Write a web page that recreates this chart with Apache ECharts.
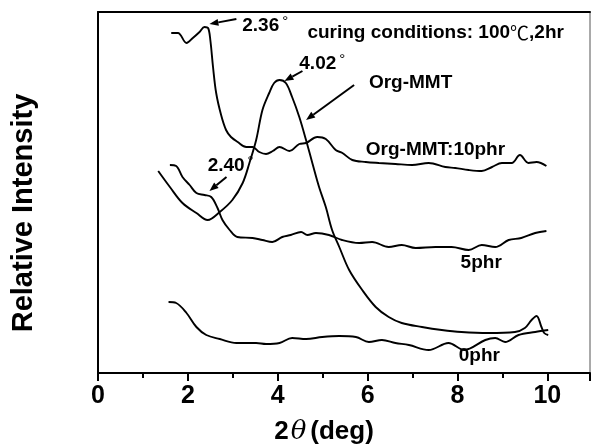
<!DOCTYPE html>
<html><head><meta charset="utf-8">
<script src="https://cdn.jsdelivr.net/npm/echarts@6/dist/echarts.min.js"></script>
<style>html,body{margin:0;padding:0;background:#fff}#c{width:593px;height:446px}</style>
</head><body><div id="c"></div>
<script>
// 2θ (deg) positions and relative intensities (arbitrary units, stacked offsets)
const x10 = [1.63,1.78,1.97,2.11,2.26,2.37,2.45,2.50,2.56,2.63,2.74,2.85,2.96,3.11,3.30,3.44,3.59,3.74,3.89,4.04,4.26,4.48,4.63,4.88,5.07,5.29,5.44,5.66,5.96,6.25,6.62,6.99,7.36,7.73,7.95,8.25,8.54,8.77,8.99,9.21,9.39,9.58,9.76,9.98];
const y10 = [340,340,330,335,341,346,345,333,306,280,258,243,236,231,226,226,221,219,222,226,222,229,230,236,234,223,220,213,211,210,209,208,210,206,205,203,202,206,210,210,218,210,211,207];
const xOrg = [1.34,1.60,1.88,2.19,2.44,2.71,2.99,3.22,3.37,3.52,3.66,3.81,3.92,4.04,4.18,4.32,4.48,4.63,4.77,4.92,5.07,5.21,5.37,5.59,5.88,6.18,6.47,6.76,7.21,7.65,8.09,8.69,9.28,9.50,9.65,9.76,9.87,9.93,10.02];
const yOrg = [202,186,170,160,153,161,173,190,210,233,263,280,290,293,290,276,256,233,210,186,166,143,126,103,83,66,56,50,46,43,41,40,41,45,53,57,46,40,38];
const x5 = [1.60,1.74,1.88,2.04,2.19,2.37,2.52,2.66,2.77,2.93,3.10,3.44,3.66,3.88,4.10,4.29,4.52,4.66,4.85,5.14,5.43,5.81,6.10,6.47,6.76,7.07,7.51,7.87,8.25,8.54,8.84,9.14,9.42,9.73,9.98];
const y5 = [208,207,196,188,180,178,176,165,153,143,136,135,133,131,136,138,141,138,140,138,133,130,131,126,128,125,126,126,123,128,126,133,135,140,142];
const x0 = [1.57,1.74,1.97,2.19,2.41,2.71,3.08,3.52,3.74,4.04,4.32,4.63,4.99,5.37,5.74,6.03,6.32,6.62,6.92,7.36,7.80,8.15,8.62,8.84,9.06,9.36,9.73,10.02];
const y0 = [71,70,60,46,38,34,30,30,29,30,35,34,36,37,36,31,33,30,28,23,30,23,33,35,31,38,41,43];
const xTicks = [0,2,4,6,8,10];

// annotations (data coordinates)
const arrows = [
  {tip:[2.48,349], tail:[3.08,354]},
  {tip:[4.15,292], tail:[4.55,302]},
  {tip:[4.63,253], tail:[5.70,288]},
  {tip:[2.48,182], tail:[2.86,196]}
];
const labels = [
  {t:'2.36', deg:true, at:[3.21,347]},
  {t:'4.02', deg:true, at:[4.48,309]},
  {t:'Org-MMT', at:[6.03,290]},
  {t:'2.40', deg:true, at:[2.44,207]},
  {t:'Org-MMT:10phr', at:[5.96,223]},
  {t:'5phr', at:[8.07,110]},
  {t:'0phr', at:[8.03,17]}
];
const cond = {t:'curing conditions: 100', unit:'℃', tail:',2hr', at:[4.66,340]};

const zip = (a,b)=>a.map((v,i)=>[v,b[i]]);
const FONT = '"Liberation Sans", Arial, Helvetica, sans-serif';
const chart = echarts.init(document.getElementById('c'), null, {renderer:'canvas'});
const line = (name, d)=>({type:'line', name, data:d, showSymbol:false, smooth:0.35,
  lineStyle:{color:'#000', width:1.9}, z:3, silent:true, animation:false});

chart.setOption({
  backgroundColor:'#fff',
  animation:false,
  grid:{left:98, right:1, top:12, bottom:73, show:true, borderColor:'#555', borderWidth:1},
  xAxis:[{type:'value', min:0, max:10.95, interval:2,
    axisLine:{show:true, onZero:false, lineStyle:{color:'#000', width:2}},
    axisTick:{show:true, inside:false, length:8, lineStyle:{color:'#000', width:2}},
    minorTick:{show:true, splitNumber:2, length:5, lineStyle:{color:'#000', width:2}},
    splitLine:{show:false},
    axisLabel:{margin:11, color:'#000', fontSize:25, fontWeight:'bold', fontFamily:FONT,
      formatter:v=> xTicks.includes(v) ? String(v) : ''}
  },{type:'value', position:'top', min:0, max:10.95,
    axisLine:{show:true, onZero:false, lineStyle:{color:'#000', width:2}},
    axisTick:{show:false}, axisLabel:{show:false}, splitLine:{show:false}}],
  yAxis:{type:'value', min:0, max:361,
    axisLine:{show:true, lineStyle:{color:'#000', width:2}},
    axisTick:{show:false}, axisLabel:{show:false}, splitLine:{show:false}},
  series:[line('Org-MMT:10phr', zip(x10,y10)), line('Org-MMT', zip(xOrg,yOrg)),
          line('5phr', zip(x5,y5)), line('0phr', zip(x0,y0))]
});

const px = p=>chart.convertToPixel({gridIndex:0}, p);
const g = [];
arrows.forEach(a=>{
  const t = px(a.tip), s = px(a.tail);
  const dx = t[0]-s[0], dy = t[1]-s[1], L = Math.hypot(dx,dy), ux = dx/L, uy = dy/L;
  const hl = 9, hw = 3.5;
  const bx = t[0]-ux*hl, by = t[1]-uy*hl;
  g.push({type:'line', shape:{x1:s[0],y1:s[1],x2:bx,y2:by}, style:{stroke:'#000', lineWidth:2}});
  g.push({type:'polygon', shape:{points:[[t[0],t[1]],[bx-uy*hw,by+ux*hw],[bx+uy*hw,by-ux*hw]]}, style:{fill:'#000'}});
});
labels.forEach(l=>{
  const p = px(l.at);
  g.push({type:'text', x:p[0], y:p[1], style:{
    text: l.deg ? '{a|'+l.t+'}{b|°}' : l.t,
    font:'bold 19px '+FONT, fill:'#000', textAlign:'left', textVerticalAlign:'middle',
    rich:{a:{font:'bold 19px '+FONT, fill:'#000'}, b:{font:'15px '+FONT, fill:'#000', padding:[0,0,8,3]}}
  }});
});
{
  const p = px(cond.at);
  g.push({type:'text', x:p[0], y:p[1], style:{
    text:'{a|'+cond.t+'}{u|'+cond.unit+'}{a|'+cond.tail+'}', textAlign:'left', textVerticalAlign:'middle',
    rich:{a:{font:'bold 19px '+FONT, fill:'#000'}, u:{font:'19px "Noto Sans CJK SC", sans-serif', fill:'#000'}}
  }});
}
// axis titles
g.push({type:'text', x:24, y:213, rotation:Math.PI/2, style:{text:'Relative Intensity',
  font:'bold 29px '+FONT, fill:'#000', textAlign:'center', textVerticalAlign:'middle'}});
g.push({type:'text', x:324, y:432, style:{text:'{a|2}{t|θ}{a|(deg)}', textAlign:'center', textVerticalAlign:'middle',
  rich:{a:{font:'bold 26px '+FONT, fill:'#000'}, t:{font:'italic 26px "DejaVu Serif", serif', fill:'#000', padding:[0,4,0,2]}}}});
chart.setOption({graphic:{elements:g}});
</script></body></html>
